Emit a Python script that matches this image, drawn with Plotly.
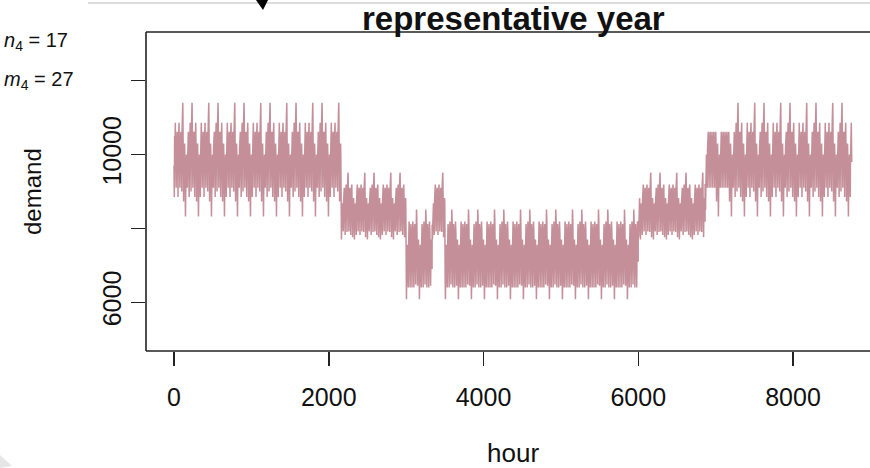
import plotly.graph_objects as go

# ---- representative-day load profiles (demand by hour of day, 0..23) ----
winter_hi = [9800, 9550, 9400, 9200, 9000, 9400, 9800, 10500, 10900, 11000, 11050, 11000,
             10900, 10850, 10800, 10850, 11050, 11400, 11300, 11100, 10850, 10500, 10200, 9950]
winter_wd = [9700, 9450, 9300, 9000, 8850, 9250, 9700, 10200, 10500, 10600, 10620, 10580,
             10500, 10450, 10420, 10450, 10550, 10860, 10700, 10500, 10350, 10150, 9950, 9800]
winter_wd2 = [9650, 9400, 9280, 9150, 9100, 9330, 9650, 10150, 10450, 10550, 10580, 10540,
              10470, 10420, 10400, 10420, 10500, 10620, 10580, 10480, 10330, 10130, 9930, 9780]
winter_sat = [9600, 9300, 9050, 8850, 8730, 8760, 8900, 9200, 9600, 9900, 10100, 10200,
              10200, 10100, 10000, 10000, 10100, 10300, 10250, 10100, 9900, 9700, 9500, 9350]
winter_sun = [9200, 8900, 8650, 8450, 8320, 8350, 8500, 8750, 9100, 9450, 9700, 9850,
              9900, 9850, 9750, 9750, 9850, 10000, 9950, 9850, 9700, 9550, 9400, 9450]
spring_hi = [8400, 8200, 8080, 7950, 7900, 8080, 8400, 8950, 9250, 9400, 9450, 9400,
             9350, 9300, 9250, 9300, 9400, 9510, 9480, 9350, 9200, 8950, 8700, 8500]
spring_wd = [8300, 8100, 7980, 7880, 7820, 7990, 8300, 8750, 9000, 9100, 9150, 9120,
             9060, 9000, 8960, 9000, 9100, 9190, 9150, 9050, 8900, 8700, 8500, 8350]
spring_wd2 = [8280, 8080, 7960, 7920, 7920, 7980, 8280, 8700, 8950, 9050, 9080, 9050,
              9000, 8950, 8920, 8950, 9020, 9100, 9070, 8990, 8860, 8680, 8480, 8330]
spring_sat = [8200, 7980, 7850, 7780, 7760, 7800, 7900, 8100, 8350, 8550, 8680, 8750,
              8750, 8700, 8650, 8650, 8700, 8820, 8790, 8700, 8560, 8420, 8280, 8180]
spring_sun = [8100, 7900, 7780, 7720, 7700, 7730, 7820, 7980, 8200, 8400, 8530, 8600,
              8620, 8580, 8530, 8530, 8580, 8680, 8660, 8580, 8450, 8330, 8220, 8250]
summer_hi = [7100, 6800, 6600, 6500, 6480, 6580, 7000, 7550, 7900, 8100, 8250, 8350,
             8400, 8450, 8510, 8500, 8450, 8350, 8250, 8100, 7950, 7700, 7450, 7250]
summer_wd = [7000, 6700, 6500, 6420, 6400, 6500, 6900, 7400, 7700, 7850, 7950, 8000,
             8050, 8100, 8190, 8150, 8100, 8050, 7950, 7850, 7700, 7500, 7300, 7100]
summer_wd2 = [6980, 6680, 6490, 6410, 6400, 6490, 6880, 7380, 7680, 7820, 7920, 7970,
              8010, 8060, 8120, 8100, 8060, 8000, 7920, 7820, 7680, 7480, 7280, 7080]
summer_sat = [6950, 6750, 6600, 6500, 6450, 6480, 6600, 6850, 7100, 7300, 7450, 7550,
              7620, 7680, 7700, 7700, 7660, 7600, 7520, 7420, 7300, 7150, 7000, 6900]
summer_sun = [6800, 6550, 6330, 6180, 6080, 6100, 6230, 6450, 6750, 7000, 7200, 7350,
              7450, 7520, 7560, 7560, 7520, 7450, 7380, 7280, 7180, 7050, 6950, 7000]

# day types over a two-week cycle (Mon..Sun, Mon..Sun)
cycle_pattern = ["wd", "wd2", "wd", "wd2", "hi", "sat", "sun",
                 "wd2", "wd", "hi", "wd2", "wd", "sat", "sun"]
# sequence of seasonal blocks through the year and their length in days
season_blocks = ["winter", "spring", "summer", "spring", "summer", "spring", "winter_early", "winter"]
block_days = [90, 35, 14, 7, 104, 36, 14, 65]

x_ticks = [0, 2000, 4000, 6000, 8000]
y_ticks = [6000, 8000, 10000, 12000]
y_tick_text = ["6000", "", "10000", ""]

profiles = {
    "winter": {"hi": winter_hi, "wd": winter_wd, "wd2": winter_wd2, "sat": winter_sat, "sun": winter_sun},
    "winter_early": {"hi": winter_wd2, "wd": winter_wd2, "wd2": winter_wd2, "sat": winter_sat,
                     "sun": winter_sun},
    "spring": {"hi": spring_hi, "wd": spring_wd, "wd2": spring_wd2, "sat": spring_sat, "sun": spring_sun},
    "summer": {"hi": summer_hi, "wd": summer_wd, "wd2": summer_wd2, "sat": summer_sat, "sun": summer_sun},
}

demand = []
day = 0
for season, ndays in zip(season_blocks, block_days):
    for _ in range(ndays):
        demand.extend(profiles[season][cycle_pattern[day % len(cycle_pattern)]])
        day += 1
hours = list(range(len(demand)))

W, H = 870, 468
L, R, T, B = 146, 870, 32, 351
pw, ph = R - L, B - T


def px(x):
    return (x - L) / pw


def py(y):
    return (B - y) / ph


fig = go.Figure()
fig.add_trace(go.Scatter(x=hours, y=demand, mode="lines",
                         line=dict(color="#c48f99", width=1.5),
                         hoverinfo="skip", showlegend=False))

FONT = "Liberation Sans, Arial, Helvetica, sans-serif"
fig.update_layout(
    width=W, height=H,
    margin=dict(l=L, r=W - R, t=T, b=H - B, pad=0),
    paper_bgcolor="white", plot_bgcolor="white",
    font=dict(family=FONT, color="#111"),
    xaxis=dict(range=[-362, 8995], tickvals=x_ticks, ticks="outside", ticklen=14,
               tickwidth=1.5, tickcolor="#222", showgrid=False, zeroline=False,
               showline=False, tickfont=dict(size=25, color="#111"),
               ticklabelstandoff=10),
    yaxis=dict(range=[4680, 13320], tickvals=y_ticks, ticktext=y_tick_text,
               ticks="outside", ticklen=14, tickwidth=1.5, tickcolor="#222",
               showgrid=False, zeroline=False, showline=False, tickangle=-90,
               tickfont=dict(size=25, color="#111"), ticklabelstandoff=0),
)

line_style = dict(color="#222", width=1.6)
shapes = [
    dict(type="line", xref="paper", yref="paper", x0=0, x1=1, y0=1, y1=1, line=line_style),
    dict(type="line", xref="paper", yref="paper", x0=0, x1=0, y0=0, y1=1, line=line_style),
    dict(type="line", xref="paper", yref="paper", x0=0, x1=1, y0=0, y1=0, line=line_style),
    # decorations from the slide capture
    dict(type="line", xref="paper", yref="paper", x0=px(88), x1=px(870), y0=py(3), y1=py(3),
         line=dict(color="#d0d0d0", width=1.5)),
    dict(type="path", xref="paper", yref="paper",
         path=f"M {px(256)} {py(0)} L {px(268)} {py(0)} L {px(263)} {py(10)} Z",
         fillcolor="black", line=dict(width=0)),
    dict(type="path", xref="paper", yref="paper",
         path=f"M {px(0)} {py(455)} L {px(12)} {py(466)} L {px(0)} {py(468)} Z",
         fillcolor="#e6e6e6", line=dict(width=0)),
]
fig.update_layout(shapes=shapes)

annotations = [
    dict(text="<b>representative year</b>", x=px(513), y=py(19), xref="paper", yref="paper",
         showarrow=False, font=dict(size=33, family=FONT, color="#111"),
         xanchor="center", yanchor="middle"),
    dict(text="demand", x=px(33), y=py(192), xref="paper", yref="paper", showarrow=False,
         textangle=-90, font=dict(size=24, family=FONT, color="#111"),
         xanchor="center", yanchor="middle"),
    dict(text="hour", x=px(513), y=py(453), xref="paper", yref="paper", showarrow=False,
         font=dict(size=26, family=FONT, color="#111"), xanchor="center", yanchor="middle"),
    dict(text="<i>n</i><sub>4</sub> = 17", x=px(2), y=py(41), xref="paper", yref="paper",
         showarrow=False, font=dict(size=20, family=FONT, color="#111"),
         xanchor="left", yanchor="middle"),
    dict(text="<i>m</i><sub>4</sub> = 27", x=px(2), y=py(80), xref="paper", yref="paper",
         showarrow=False, font=dict(size=20, family=FONT, color="#111"),
         xanchor="left", yanchor="middle"),
]
fig.update_layout(annotations=annotations)

fig.write_html("out.html", config={"displayModeBar": False, "staticPlot": True},
               post_script="document.body.style.margin='0';document.body.style.overflow='hidden';")
